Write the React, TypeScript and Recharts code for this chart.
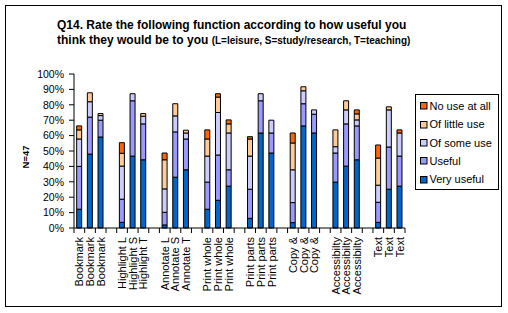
import React from 'react';
import { BarChart, Bar, XAxis, YAxis } from 'recharts';

const categories = [
  'Bookmark', 'Bookmark', 'Bookmark',
  'Highlight L', 'Highlight S', 'Highlight T',
  'Annotate L', 'Annotate S', 'Annotate T',
  'Print whole', 'Print whole', 'Print whole',
  'Print parts', 'Print parts', 'Print parts',
  'Copy &', 'Copy &', 'Copy &',
  'Accessibilty', 'Accessibilty', 'Accessibilty',
  'Text', 'Text', 'Text',
];

const veryUseful = [12.2, 48.0, 59.1, 3.7, 46.7, 44.3, 2.0, 33.0, 37.8, 12.2, 18.0, 27.2, 6.3, 61.7, 48.7, 3.5, 66.3, 61.7, 29.8, 40.2, 44.3, 3.7, 25.2, 27.2];
const useful = [27.8, 24.0, 10.9, 15.0, 35.9, 23.3, 8.2, 29.4, 20.0, 17.6, 29.4, 10.6, 18.9, 20.9, 13.0, 13.0, 14.4, 12.2, 18.9, 27.4, 22.0, 13.0, 27.4, 19.5];
const someUse = [17.8, 10.0, 3.0, 21.5, 4.6, 5.0, 15.2, 10.4, 3.9, 16.9, 27.6, 23.9, 21.5, 4.6, 8.3, 21.3, 8.4, 2.8, 4.1, 9.1, 3.9, 11.1, 24.1, 15.0];
const littleUse = [5.9, 5.8, 1.3, 8.3, 0, 1.7, 18.9, 7.9, 1.8, 11.1, 10.0, 5.9, 11.1, 0, 0, 17.4, 2.6, 0, 10.9, 5.9, 3.9, 17.6, 2.0, 0];
const noUse = [2.6, 0, 0, 6.9, 0, 0, 4.4, 0, 0, 5.9, 2.2, 2.6, 1.5, 0, 0, 6.5, 0, 0, 0, 0, 2.6, 8.5, 0, 2.0];

const yTicks = [0, 10, 20, 30, 40, 50, 60, 70, 80, 90, 100];

const series = [
  { key: 'veryUseful', name: 'Very useful', color: '#0066CC', values: veryUseful },
  { key: 'useful', name: 'Useful', color: '#9999FF', values: useful },
  { key: 'someUse', name: 'Of some use', color: '#CCCCFF', values: someUse },
  { key: 'littleUse', name: 'Of little use', color: '#FFCC99', values: littleUse },
  { key: 'noUse', name: 'No use at all', color: '#FF6600', values: noUse },
];

const GROUP = 3;
const rows: any[] = [];
categories.forEach((c, i) => {
  if (i > 0 && i % GROUP === 0) rows.push({ id: 'gap' + i, label: '' });
  const row: any = { id: 'c' + i, label: c };
  series.forEach((s) => { row[s.key] = s.values[i]; });
  rows.push(row);
});

const W = 508;
const H = 313;
const M = { top: 74, right: 103, left: 0, bottom: 0 };
const Y_W = 74;
const X_H = 85;
const TICK_SIZE = 5;
const TICK_MARGIN = 2;
const FONT = '"Liberation Sans", Arial, sans-serif';

const XTick = (props: any) => {
  const { x, y, index } = props;
  const half = (W - M.right - M.left - Y_W) / rows.length / 2;
  const row = rows[index];
  const axisY = y - TICK_SIZE - TICK_MARGIN;
  const ty = axisY + 9;
  return (
    <g>
      <line x1={x - half} x2={x - half} y1={axisY} y2={axisY + TICK_SIZE} stroke="#000" />
      {index === rows.length - 1 && (
        <line x1={x + half} x2={x + half} y1={axisY} y2={axisY + TICK_SIZE} stroke="#000" />
      )}
      {row && row.label ? (
        <text
          x={x}
          y={ty}
          dy={4}
          transform={`rotate(-90 ${x} ${ty})`}
          textAnchor="end"
          fontSize={11}
          fill="#000"
          fontFamily={FONT}
        >
          {row.label}
        </text>
      ) : null}
    </g>
  );
};

const legendItems = [...series].reverse();

export default function App() {
  return (
    <div style={{ position: 'fixed', left: 0, top: 0, width: W, height: H, background: '#fff', fontFamily: FONT }}>
      <BarChart width={W} height={H} data={rows} margin={M} barCategoryGap="25%">
        <XAxis
          dataKey="id"
          height={X_H}
          interval={0}
          tick={<XTick />}
          tickLine={false}
          tickSize={TICK_SIZE}
          tickMargin={TICK_MARGIN}
          axisLine={{ stroke: '#000' }}
        />
        <XAxis
          xAxisId="top"
          dataKey="id"
          orientation="top"
          height={0}
          tick={false}
          tickLine={false}
          axisLine={{ stroke: '#808080' }}
        />
        <YAxis
          width={Y_W}
          domain={[0, 100]}
          ticks={yTicks}
          interval={0}
          tickFormatter={(v: number) => `${v}%`}
          tick={{ fontSize: 10.5, fill: '#000', fontFamily: FONT }}
          tickSize={5}
          tickMargin={5}
          tickLine={{ stroke: '#000' }}
          axisLine={{ stroke: '#000' }}
        />
        <YAxis
          yAxisId="right"
          orientation="right"
          width={0}
          domain={[0, 100]}
          tick={false}
          tickLine={false}
          axisLine={{ stroke: '#808080' }}
        />
        {series.map((s) => (
          <Bar
            key={s.key}
            dataKey={s.key}
            name={s.name}
            stackId="a"
            fill={s.color}
            stroke="#000"
            strokeWidth={1}
            isAnimationActive={false}
          />
        ))}
      </BarChart>
      <svg width={W} height={H} style={{ position: 'absolute', left: 0, top: 0, pointerEvents: 'none' }} fontFamily={FONT}>
        <rect x={5.5} y={5.5} width={496} height={301} fill="none" stroke="#000" />
        <text x={57} y={29} fontSize={12} fontWeight="bold" fill="#000">
          Q14. Rate the following function according to how useful you
        </text>
        <text x={57} y={44} fontSize={12} fontWeight="bold" fill="#000">
          think they would be to you <tspan fontSize={10}>(L=leisure, S=study/research, T=teaching)</tspan>
        </text>
        <text x={29} y={157} transform="rotate(-90 29 157)" textAnchor="middle" fontSize={9.5} fontWeight="bold" fill="#000">
          N=47
        </text>
        <rect x={415.5} y={94.5} width={83} height={95} fill="#fff" stroke="#000" />
        {legendItems.map((s, i) => {
          const cy = 105.7 + i * 18.4;
          return (
            <g key={s.key}>
              <rect x={420.5} y={Math.round(cy - 3.5) + 0.5} width={6.5} height={6.5} fill={s.color} stroke="#000" />
              <text x={429.5} y={cy + 4} fontSize={11} fill="#000">{s.name}</text>
            </g>
          );
        })}
      </svg>
    </div>
  );
}
